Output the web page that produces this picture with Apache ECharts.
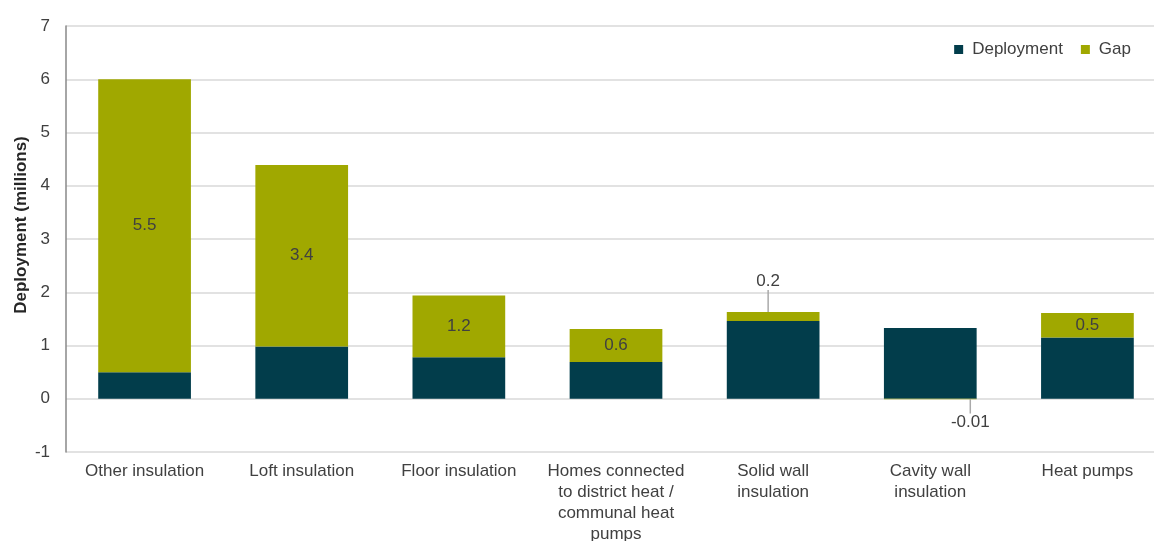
<!DOCTYPE html>
<html>
<head>
<meta charset="utf-8">
<script src="https://cdn.jsdelivr.net/npm/echarts@6/dist/echarts.min.js"></script>
<style>html,body{margin:0;padding:0;background:#fff;overflow:hidden;width:100%;height:100%}#c{width:100vw;height:100vh}</style>
</head>
<body>
<div id="c"></div>
<script>
const categories = ['Other insulation', 'Loft insulation', 'Floor insulation', 'Homes connected\nto district heat /\ncommunal heat\npumps', 'Solid wall\ninsulation', 'Cavity wall\ninsulation', 'Heat pumps'];
const deployment = [0.5, 0.98, 0.78, 0.69, 1.46, 1.33, 1.15];
const gap = [5.5, 3.41, 1.16, 0.62, 0.17, -0.01, 0.46];
const gapLabels = ['5.5', '3.4', '1.2', '0.6', '0.2', '-0.01', '0.5'];
const yTicks = [-1, 0, 1, 2, 3, 4, 5, 6, 7];

const font = 'Liberation Sans, Arial, sans-serif';
const chart = echarts.init(document.getElementById('c'), null, {renderer: 'canvas'});
chart.setOption({
  animation: false,
  textStyle: {fontFamily: font},
  grid: {left: 66, top: 26, bottom: 89, width: 1100, outerBoundsMode: 'none', containLabel: false},
  legend: {
    right: 18, top: 36, icon: 'rect', itemWidth: 9, itemHeight: 9, itemGap: 18,
    textStyle: {fontSize: 17, color: '#404040', fontFamily: font, padding: [0, 0, 0, 4]},
    data: ['Deployment', 'Gap']
  },
  xAxis: {
    type: 'category', data: categories, position: 'bottom',
    axisLine: {show: false, onZero: false}, axisTick: {show: false},
    axisLabel: {fontSize: 17, color: '#404040', lineHeight: 21, margin: 9, interval: 0, fontFamily: font}
  },
  yAxis: {
    type: 'value', min: yTicks[0], max: yTicks[yTicks.length - 1], interval: 1,
    name: 'Deployment (millions)', nameLocation: 'middle', nameGap: 36, nameMoveOverlap: false,
    nameTextStyle: {fontSize: 17, fontWeight: 'bold', color: '#262626', fontFamily: font, padding: [0, 0, 0, 28]},
    axisLine: {show: true, lineStyle: {color: '#888', width: 1.5}},
    axisTick: {show: false},
    axisLabel: {fontSize: 17, color: '#404040', margin: 16, fontFamily: font},
    splitLine: {lineStyle: {color: '#d9d9d9', width: 1.5}}
  },
  series: [
    {
      name: 'Deployment', type: 'bar', stack: 'a', data: deployment, barWidth: '59%',
      itemStyle: {color: '#023d4b'}
    },
    {
      name: 'Gap', type: 'bar', stack: 'a', data: gap, barWidth: '59%',
      itemStyle: {color: '#a0a800'},
      label: {
        show: true, position: 'inside', fontSize: 17, color: '#404040', fontFamily: font,
        formatter: p => gapLabels[p.dataIndex]
      },
      labelLine: {show: true, lineStyle: {color: '#aaa', width: 1.5}},
      labelLayout: function (p) {
        if (p.dataIndex === 4) return {dx: -5, dy: -35};
        if (p.dataIndex === 5) return {dx: 40, dy: 23};
        return {};
      }
    }
  ]
});
</script>
</body>
</html>
